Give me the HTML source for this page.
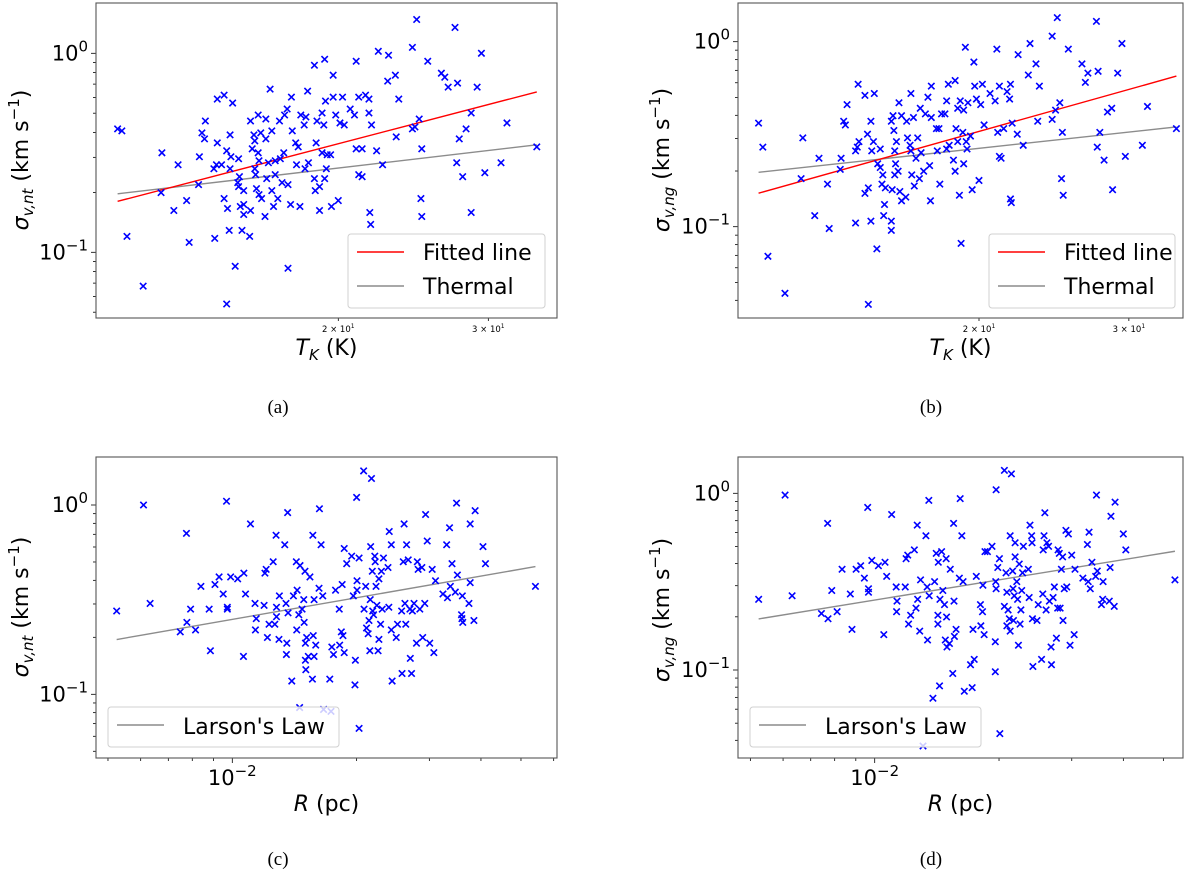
<!DOCTYPE html>
<html><head><meta charset="utf-8"><title>Velocity dispersion panels</title>
<style>
html,body{margin:0;padding:0;background:#fff;}
svg{display:block;font-family:"DejaVu Sans","Liberation Sans",sans-serif;}
.cap{font-family:"Liberation Serif",serif;font-size:19px;}
</style></head>
<body>
<svg id="fig" width="1200" height="870" viewBox="0 0 1200 870" xmlns="http://www.w3.org/2000/svg"></svg>
<script>
// ---- data (log10 values) ----
const logTempA = [1.042,1.047,1.053,1.072,1.094,1.093,1.108,1.113,1.123,1.126,1.137,1.138,1.141,1.144,1.145,1.156,1.155,1.158,1.159,1.159,1.167,1.164,1.167,1.170,1.171,1.173,1.174,1.174,1.175,1.177,1.170,1.180,1.184,1.185,1.183,1.184,1.186,1.188,1.190,1.190,1.190,1.197,1.198,1.198,1.200,1.202,1.203,1.203,1.204,1.205,1.207,1.207,1.208,1.208,1.210,1.211,1.215,1.216,1.216,1.217,1.219,1.221,1.223,1.223,1.225,1.227,1.227,1.230,1.232,1.233,1.235,1.237,1.238,1.241,1.242,1.242,1.245,1.246,1.247,1.251,1.252,1.254,1.256,1.257,1.261,1.262,1.263,1.265,1.266,1.273,1.273,1.274,1.275,1.276,1.279,1.279,1.282,1.282,1.284,1.285,1.285,1.286,1.287,1.288,1.292,1.293,1.295,1.295,1.298,1.301,1.303,1.306,1.308,1.315,1.320,1.322,1.322,1.325,1.325,1.329,1.329,1.333,1.337,1.337,1.338,1.339,1.340,1.346,1.348,1.353,1.359,1.360,1.368,1.369,1.372,1.388,1.388,1.391,1.393,1.396,1.398,1.399,1.399,1.406,1.422,1.426,1.430,1.438,1.440,1.441,1.443,1.447,1.451,1.457,1.457,1.464,1.469,1.473,1.492,1.499,1.534];
const logSigmaNtA = [-.38,-.39,-.92,-1.17,-.50,-.70,-.79,-.56,-.74,-.95,-.66,-.52,-.40,-.43,-.34,-.93,-.58,-.56,-.45,-.23,-.21,-.56,-.73,-.49,-.78,-.89,-.41,-.58,-.52,-.25,-1.26,-1.07,-.53,-.62,-.65,-.67,-.77,-.89,-.76,-.81,-.69,-.92,-.79,-.34,-.48,-.41,-.44,-.58,-.61,-.68,-.50,-.31,-.54,-.71,-.40,-.73,-.82,-.33,-.43,-.63,-.55,-.18,-.39,-.69,-.77,-.54,-.61,-.73,-.34,-.53,-.65,-.50,-.31,-.28,-.66,-1.08,-.76,-.22,-.39,-.45,-.56,-.47,-.77,-.31,-.36,-.58,-.32,-.19,-.55,-.63,-.06,-.69,-.45,-.34,-.67,-.79,-.30,-.50,-.36,-.03,-.63,-.24,-.58,-.51,-.51,-.77,-.11,-.22,-.31,-.74,-.35,-.22,-.36,-.28,-.31,-.48,-.04,-.22,-.61,-.48,-.62,-.21,-.23,-.30,-.80,-.86,-.36,-.49,.01,-.56,-.14,-.01,-.11,-.42,-.23,.03,-.38,-.37,.17,-.33,-.73,-.48,-.82,-.04,-.10,-.12,-.17,.13,-.55,-.15,-.43,-.62,-.38,-.30,-.80,-.17,.00,-.60,-.55,-.35,-.47];
const logTempB = [1.042,1.047,1.053,1.073,1.094,1.092,1.108,1.113,1.123,1.125,1.138,1.139,1.142,1.144,1.146,1.156,1.156,1.158,1.160,1.159,1.167,1.167,1.171,1.170,1.174,1.177,1.175,1.174,1.178,1.171,1.181,1.182,1.185,1.185,1.188,1.187,1.190,1.189,1.191,1.198,1.198,1.199,1.198,1.200,1.201,1.202,1.204,1.203,1.202,1.206,1.207,1.208,1.210,1.210,1.215,1.216,1.217,1.220,1.221,1.221,1.222,1.224,1.225,1.227,1.229,1.231,1.232,1.233,1.236,1.238,1.241,1.243,1.245,1.245,1.244,1.251,1.252,1.254,1.255,1.257,1.261,1.263,1.263,1.265,1.266,1.271,1.273,1.273,1.274,1.276,1.276,1.278,1.279,1.280,1.283,1.283,1.282,1.285,1.286,1.287,1.288,1.291,1.293,1.295,1.296,1.298,1.301,1.303,1.305,1.307,1.314,1.320,1.322,1.323,1.325,1.325,1.327,1.330,1.334,1.337,1.338,1.338,1.339,1.340,1.346,1.347,1.353,1.359,1.361,1.368,1.370,1.372,1.387,1.387,1.391,1.393,1.396,1.398,1.399,1.400,1.406,1.422,1.426,1.429,1.439,1.440,1.441,1.443,1.448,1.452,1.457,1.458,1.464,1.469,1.473,1.493,1.499,1.533];
const logSigmaNgB = [-.44,-.57,-1.16,-1.36,-.52,-.74,-.94,-.63,-.77,-1.01,-.69,-.63,-.43,-.45,-.34,-.98,-.59,-.57,-.54,-.23,-.29,-.82,-.79,-.50,-.43,-.54,-.59,-.97,-.28,-1.42,-1.12,-.66,-.58,-.68,-.72,-.77,-.88,-.94,-.79,-.97,-1.02,-.80,-.43,-.40,-.48,-.59,-.54,-.66,-.72,-.70,-.33,-.81,-.40,-.86,-.84,-.43,-.52,-.56,-.28,-.59,-.72,-.41,-.78,-.63,-.52,-.74,-.36,-.60,-.70,-.39,-.30,-.67,-.24,-.41,-.86,-.47,-.59,-.47,-.77,-.39,-.39,-.32,-.58,-.23,-.56,-.64,-.21,-.70,-.47,-.54,-.36,-.83,-.32,-1.09,-.66,-.37,-.49,-.03,-.54,-.58,-.33,-.51,-.80,-.11,-.24,-.31,-.75,-.34,-.23,-.45,-.28,-.32,-.04,-.49,-.62,-.24,-.63,-.47,-.27,-.31,-.23,-.85,-.87,-.44,-.50,-.07,-.56,-.18,-.01,-.12,-.43,-.24,.03,-.42,-.37,.13,-.33,-.74,-.49,-.83,-.04,-.12,-.22,-.17,.11,-.57,-.16,-.49,-.64,-.38,-.36,-.80,-.17,-.01,-.62,-.56,-.35,-.47];
const logRadiusC = [-2.280,-2.215,-2.199,-2.126,-2.111,-2.110,-2.101,-2.089,-2.076,-2.056,-2.053,-2.042,-2.032,-2.022,-2.014,-2.012,-2.012,-2.004,-1.987,-1.973,-1.972,-1.968,-1.956,-1.945,-1.944,-1.942,-1.923,-1.921,-1.918,-1.915,-1.911,-1.901,-1.897,-1.894,-1.893,-1.887,-1.886,-1.893,-1.873,-1.870,-1.868,-1.869,-1.866,-1.865,-1.856,-1.852,-1.845,-1.844,-1.843,-1.839,-1.837,-1.836,-1.831,-1.827,-1.826,-1.824,-1.823,-1.823,-1.822,-1.820,-1.816,-1.812,-1.806,-1.805,-1.804,-1.802,-1.802,-1.798,-1.790,-1.789,-1.785,-1.781,-1.779,-1.764,-1.761,-1.759,-1.755,-1.750,-1.741,-1.740,-1.736,-1.734,-1.732,-1.729,-1.729,-1.723,-1.711,-1.707,-1.703,-1.702,-1.699,-1.698,-1.698,-1.693,-1.693,-1.682,-1.681,-1.677,-1.675,-1.671,-1.669,-1.667,-1.666,-1.665,-1.663,-1.661,-1.660,-1.658,-1.655,-1.654,-1.652,-1.650,-1.647,-1.645,-1.645,-1.641,-1.639,-1.637,-1.634,-1.623,-1.621,-1.620,-1.615,-1.615,-1.613,-1.603,-1.600,-1.590,-1.589,-1.586,-1.584,-1.582,-1.580,-1.578,-1.574,-1.570,-1.569,-1.566,-1.564,-1.560,-1.554,-1.552,-1.550,-1.546,-1.541,-1.539,-1.534,-1.532,-1.528,-1.522,-1.516,-1.512,-1.508,-1.490,-1.481,-1.479,-1.474,-1.472,-1.468,-1.460,-1.457,-1.455,-1.445,-1.444,-1.443,-1.442,-1.427,-1.424,-1.424,-1.415,-1.412,-1.393,-1.387,-1.266];
const logSigmaNtC = [-.56,.00,-.52,-.67,-.15,-.62,-.55,-.66,-.43,-.55,-.77,-.42,-.38,-.47,.02,-.54,-.55,-.38,-.39,-.80,-.36,-.47,-.10,-.52,-.66,-.60,-.53,-.36,-.34,-.70,-.63,-.30,-.63,-.16,-.59,-.71,-.48,-.54,-.21,-.52,-.73,-.79,-.04,-.57,-.93,-.48,-.30,-.66,-.45,-.58,-1.07,-.32,-.55,-.50,-.62,-.35,-.73,-.82,-.87,-.70,-.80,-.38,-.92,-.16,-.69,-.80,-.50,-.74,-.44,-.02,-.21,-.48,-1.08,-.92,-1.09,-.75,-.79,-.45,-.55,-.74,-.67,-.42,-.69,-.78,-.23,-.31,-.27,-.48,-.95,-.82,.04,-.40,-.45,-1.18,-.28,.18,-.55,-.43,-.65,-.68,-.61,-.77,-.50,-.22,.14,-.35,-.56,-.58,-.27,-.30,-.43,-.53,-.77,-.71,-.39,-.63,-.35,-.55,-.28,-.33,-.54,-.14,-.66,-.21,-.93,-.70,-.63,-.56,-.89,-.30,-.10,-.52,-.63,-.21,-.29,-.55,-.81,-.89,-.56,-.52,-.73,-.30,-.34,-.55,-.33,-.70,-.52,-.05,-.19,-.73,-.34,-.78,-.40,-.47,-.21,-.49,-.12,-.43,-.31,-.46,.01,-.37,-.58,-.60,-.48,-.62,-.52,-.41,-.10,-.61,-.03,-.22,-.31,-.43];
const logRadiusD = [-2.281,-2.217,-2.200,-2.129,-2.114,-2.113,-2.104,-2.091,-2.079,-2.059,-2.055,-2.045,-2.034,-2.025,-2.017,-2.015,-2.015,-2.007,-1.991,-1.978,-1.975,-1.971,-1.959,-1.948,-1.947,-1.946,-1.926,-1.924,-1.920,-1.918,-1.913,-1.904,-1.900,-1.897,-1.896,-1.891,-1.889,-1.883,-1.876,-1.873,-1.872,-1.869,-1.868,-1.859,-1.855,-1.851,-1.847,-1.847,-1.846,-1.843,-1.842,-1.838,-1.835,-1.831,-1.829,-1.827,-1.826,-1.825,-1.819,-1.817,-1.811,-1.809,-1.808,-1.807,-1.803,-1.795,-1.793,-1.789,-1.786,-1.783,-1.768,-1.764,-1.762,-1.759,-1.754,-1.744,-1.743,-1.739,-1.738,-1.735,-1.733,-1.727,-1.716,-1.708,-1.708,-1.707,-1.706,-1.706,-1.702,-1.698,-1.697,-1.686,-1.686,-1.682,-1.680,-1.680,-1.677,-1.674,-1.672,-1.672,-1.669,-1.666,-1.665,-1.664,-1.662,-1.660,-1.660,-1.656,-1.654,-1.652,-1.650,-1.648,-1.646,-1.644,-1.642,-1.640,-1.628,-1.626,-1.624,-1.620,-1.619,-1.618,-1.617,-1.607,-1.604,-1.596,-1.593,-1.592,-1.590,-1.588,-1.585,-1.583,-1.579,-1.577,-1.573,-1.572,-1.568,-1.565,-1.560,-1.557,-1.556,-1.553,-1.551,-1.548,-1.545,-1.544,-1.541,-1.537,-1.535,-1.531,-1.527,-1.523,-1.517,-1.515,-1.496,-1.485,-1.483,-1.481,-1.478,-1.474,-1.465,-1.463,-1.461,-1.451,-1.448,-1.447,-1.432,-1.430,-1.428,-1.420,-1.418,-1.398,-1.392,-1.273];
const logSigmaNgD = [-.60,-.01,-.58,-.68,-.17,-.71,-.55,-.67,-.43,-.57,-.77,-.43,-.41,-.48,-.08,-.54,-.56,-.38,-.41,-.80,-.39,-.47,-.12,-.53,-.67,-.61,-.53,-.37,-.35,-.74,-.69,-.32,-.65,-.18,-.60,-.78,-.49,-1.43,-.24,-.53,-.83,-.04,-.58,-1.16,-.50,-.34,-.69,-.74,-.39,-1.09,-.60,-.33,-.55,-.63,-.83,-.37,-.70,-.87,-.85,-.43,-1.02,-.17,-.61,-.81,-.77,-.48,-.03,-.24,-.50,-1.12,-.97,-1.10,-.77,-.94,-.47,-.63,-.75,-.67,-.52,-.80,-.33,-.33,-.30,-.84,-1.01,-.50,-.54,.02,-.42,-.37,-1.36,.13,-.64,-.45,-.56,-.75,-.66,-.71,-.78,-.24,.11,-.44,-.54,-.72,-.58,-.28,-.36,-.50,-.60,-.86,-.40,-.74,-.66,-.55,-.45,-.30,-.43,-.59,-.18,-.24,-.28,-.71,-.98,-.72,-.63,-.94,-.57,-.32,-.24,-.11,-.66,-.28,-.30,-.61,-.87,-.97,-.59,-.53,-.82,-.65,-.32,-.34,-.65,-.43,-.36,-.72,-.54,-.21,-.53,-.23,-.86,-.35,-.80,-.43,-.48,-.29,-.50,-.22,-.54,-.39,-.47,-.01,-.44,-.63,-.60,-.50,-.61,-.42,-.13,-.64,-.05,-.23,-.32,-.49];
// fitted power laws (log sigma = intercept + slope * log T)
const fitSlopes = [1.118, 1.289];
const fitIntercepts = [-1.909, -2.162];
// thermal: log sigma = thermalLogCoef + 0.5 log T
const thermalLogCoef = -1.227;
const thermalExp = 0.5;
// Larson: sigma = 1.1 (2R)^0.38
const larsonCoef = 1.1;
const larsonExp = 0.38;

const NS = "http://www.w3.org/2000/svg";
const svg = document.getElementById("fig");
function mk(tag, attrs, parent) {
  const e = document.createElementNS(NS, tag);
  for (const k in attrs) e.setAttribute(k, attrs[k]);
  (parent || svg).appendChild(e);
  return e;
}

const panels = [
  {id:"a", xs:logTempA, ys:logSigmaNtA, left:96, top:3, right:557, bottom:318, x0:338.3, xRef:Math.log10(20), xScale:852, y0:53.3, yScale:199, kind:"T", ylab:"nt", labX:20, labY:160, xlabY:355, capX:278, capY:413},
  {id:"b", xs:logTempB, ys:logSigmaNgB, left:738, top:3, right:1183, bottom:318, x0:979, xRef:Math.log10(20), xScale:851, y0:41.7, yScale:185, kind:"T", ylab:"ng", labX:661, labY:160, xlabY:355, capX:931, capY:413},
  {id:"c", xs:logRadiusC, ys:logSigmaNtC, left:96, top:457, right:557, bottom:758, x0:232.3, xRef:-2, xScale:413, y0:505, yScale:189.3, kind:"R", ylab:"nt", labX:20, labY:607, xlabY:811, capX:278, capY:865},
  {id:"d", xs:logRadiusD, ys:logSigmaNgD, left:738, top:457, right:1183, bottom:758, x0:874.7, xRef:-2, xScale:413, y0:493.3, yScale:176.7, kind:"R", ylab:"ng", labX:661, labY:610, xlabY:811, capX:931, capY:865}
];

panels.forEach((p, pi) => {
  const X = v => p.x0 + p.xScale * (v - p.xRef);
  const Y = v => p.y0 - p.yScale * v;
  const xMinV = p.xRef + (p.left - p.x0) / p.xScale, xMaxV = p.xRef + (p.right - p.x0) / p.xScale;
  const yMaxV = (p.y0 - p.top) / p.yScale, yMinV = (p.y0 - p.bottom) / p.yScale;

  const g = mk("g", {});
  
  

  const cp = mk("clipPath", {id: "clip" + p.id}, g);
  mk("rect", {x:p.left, y:p.top, width:p.right-p.left, height:p.bottom-p.top}, cp);

  const yt = mk("g", {stroke:"#000", "stroke-width":0.8}, g);
  
  
  for (let e = -3; e <= 1; e++) {
    for (let k = 1; k <= 9; k++) {
      const v = e + Math.log10(k);
      if (v < yMinV || v > yMaxV) continue;
      const y = Y(v);
      mk("line", {x1:p.left, x2:p.left - (k === 1 ? 5 : 3), y1:y, y2:y}, yt);
      if (k === 1) {
        const t = mk("text", {x:p.left - 8, y:y + 7, "text-anchor":"end", "font-size":21, fill:"#000", stroke:"none"}, g);
        
        
        t.appendChild(document.createTextNode("10"));
        const s = mk("tspan", {dy:-9, "font-size":15}, t);
        s.textContent = e === 0 ? "0" : "\u2212" + (-e);
      }
    }
  }
  const xt = mk("g", {stroke:"#000", "stroke-width":0.8}, g);
  
  
  for (let e = -4; e <= 2; e++) {
    for (let k = 1; k <= 9; k++) {
      const v = e + Math.log10(k);
      if (v < xMinV || v > xMaxV) continue;
      const x = X(v);
      mk("line", {x1:x, x2:x, y1:p.bottom, y2:p.bottom + (k === 1 ? 5 : 3)}, xt);
      if (k === 1) {
        const t = mk("text", {x:x, y:p.bottom + 27, "text-anchor":"middle", "font-size":21, fill:"#000", stroke:"none"}, g);
        
        
        t.appendChild(document.createTextNode("10"));
        const s = mk("tspan", {dy:-9, "font-size":15}, t);
        s.textContent = e === 0 ? "0" : "\u2212" + (-e);
      } else if (p.kind === "T" && e === 1 && (k === 2 || k === 3)) {
        const t = mk("text", {x:x, y:p.bottom + 14, "text-anchor":"middle", "font-size":8.5, fill:"#000", stroke:"none"}, g);
        
        
        t.appendChild(document.createTextNode(k + " \u00d7 10"));
        const s = mk("tspan", {dy:-4, "font-size":6}, t);
        s.textContent = "1";
      }
    }
  }

  const lx0 = Math.min(...p.xs), lx1 = Math.max(...p.xs);
  if (p.kind === "T") {
    const th = mk("line", {x1:X(lx0), y1:Y(thermalLogCoef + thermalExp*lx0), x2:X(lx1), y2:Y(thermalLogCoef + thermalExp*lx1), stroke:"#8c8c8c", "stroke-width":1.4, "clip-path":"url(#clip"+p.id+")"}, g);
    
    
    const f = mk("line", {x1:X(lx0), y1:Y(fitIntercepts[pi] + fitSlopes[pi]*lx0), x2:X(lx1), y2:Y(fitIntercepts[pi] + fitSlopes[pi]*lx1), stroke:"#ff0000", "stroke-width":1.4, "clip-path":"url(#clip"+p.id+")"}, g);
    
    
  } else {
    const L = v => Math.log10(larsonCoef) + larsonExp * (Math.log10(2) + v);
    const ll = mk("line", {x1:X(lx0), y1:Y(L(lx0)), x2:X(lx1), y2:Y(L(lx1)), stroke:"#8c8c8c", "stroke-width":1.4}, g);
    
    
  }

  const pts = mk("g", {stroke:"#0000ff", "stroke-width":1.6, "clip-path":"url(#clip"+p.id+")"}, g);
  
  
  const n = Math.min(p.xs.length, p.ys.length);
  for (let i = 0; i < n; i++) {
    const cx = X(p.xs[i]), cy = Y(p.ys[i]), r = 3.2;
    const m = mk("path", {d:`M${cx-r},${cy-r}L${cx+r},${cy+r}M${cx-r},${cy+r}L${cx+r},${cy-r}`}, pts);
    
    
  }

  const lg = mk("g", {}, g);
  
  
  if (p.kind === "T") {
    const lx = p.id === "a" ? 348 : 989, lw = p.id === "a" ? 197 : 186;
    mk("rect", {x:lx, y:234, width:lw, height:74, rx:3, fill:"rgba(255,255,255,0.8)", stroke:"#d0d0d0", "stroke-width":1}, lg);
    const e1 = mk("line", {x1:lx+9, x2:lx+56, y1:252, y2:252, stroke:"#ff0000", "stroke-width":1.4}, lg);
    
    
    const t1 = mk("text", {x:lx+75, y:260, "font-size":22, fill:"#000"}, lg);
    t1.textContent = "Fitted line";
    const e2 = mk("line", {x1:lx+9, x2:lx+56, y1:286, y2:286, stroke:"#8c8c8c", "stroke-width":1.4}, lg);
    
    
    const t2 = mk("text", {x:lx+75, y:294, "font-size":22, fill:"#000"}, lg);
    t2.textContent = "Thermal";
  } else {
    const lx = p.id === "c" ? 108 : 750;
    mk("rect", {x:lx, y:707, width:231, height:40, rx:3, fill:"rgba(255,255,255,0.8)", stroke:"#d0d0d0", "stroke-width":1}, lg);
    const e1 = mk("line", {x1:lx+9, x2:lx+56, y1:725, y2:725, stroke:"#8c8c8c", "stroke-width":1.4}, lg);
    
    
    const t1 = mk("text", {x:lx+75, y:734, "font-size":22, fill:"#000"}, lg);
    t1.textContent = "Larson's Law";
  }

  const fr = mk("rect", {x:p.left, y:p.top, width:p.right-p.left, height:p.bottom-p.top, fill:"none", stroke:"#555", "stroke-width":1.1}, g);
  
  

  const yl = mk("text", {transform:`translate(${p.labX + 8},${p.labY}) rotate(-90)`, "text-anchor":"middle", "font-size":22, fill:"#000"}, g);
  
  
  const s1 = mk("tspan", {"font-style":"italic"}, yl); s1.textContent = "\u03c3";
  const s2 = mk("tspan", {"font-style":"italic", "font-size":15, dy:5}, yl); s2.textContent = "v," + p.ylab;
  const s3 = mk("tspan", {dy:-5}, yl); s3.textContent = " (km s";
  const s4 = mk("tspan", {"font-size":15, dy:-9}, yl); s4.textContent = "\u22121";
  const s5 = mk("tspan", {dy:9}, yl); s5.textContent = ")";

  const xcx = (p.left + p.right) / 2;
  const xl = mk("text", {x:xcx, y:p.xlabY, "text-anchor":"middle", "font-size":22, fill:"#000"}, g);
  
  
  if (p.kind === "T") {
    const a1 = mk("tspan", {"font-style":"italic"}, xl); a1.textContent = "T";
    const a2 = mk("tspan", {"font-style":"italic", "font-size":15, dy:5}, xl); a2.textContent = "K";
    const a3 = mk("tspan", {dy:-5}, xl); a3.textContent = " (K)";
  } else {
    const a1 = mk("tspan", {"font-style":"italic"}, xl); a1.textContent = "R";
    const a3 = mk("tspan", {}, xl); a3.textContent = " (pc)";
  }

  const cap = mk("text", {x:p.capX, y:p.capY, "text-anchor":"middle", class:"cap", fill:"#000"}, g);
  
  
  cap.textContent = "(" + p.id + ")";
});
</script>
</body></html>
